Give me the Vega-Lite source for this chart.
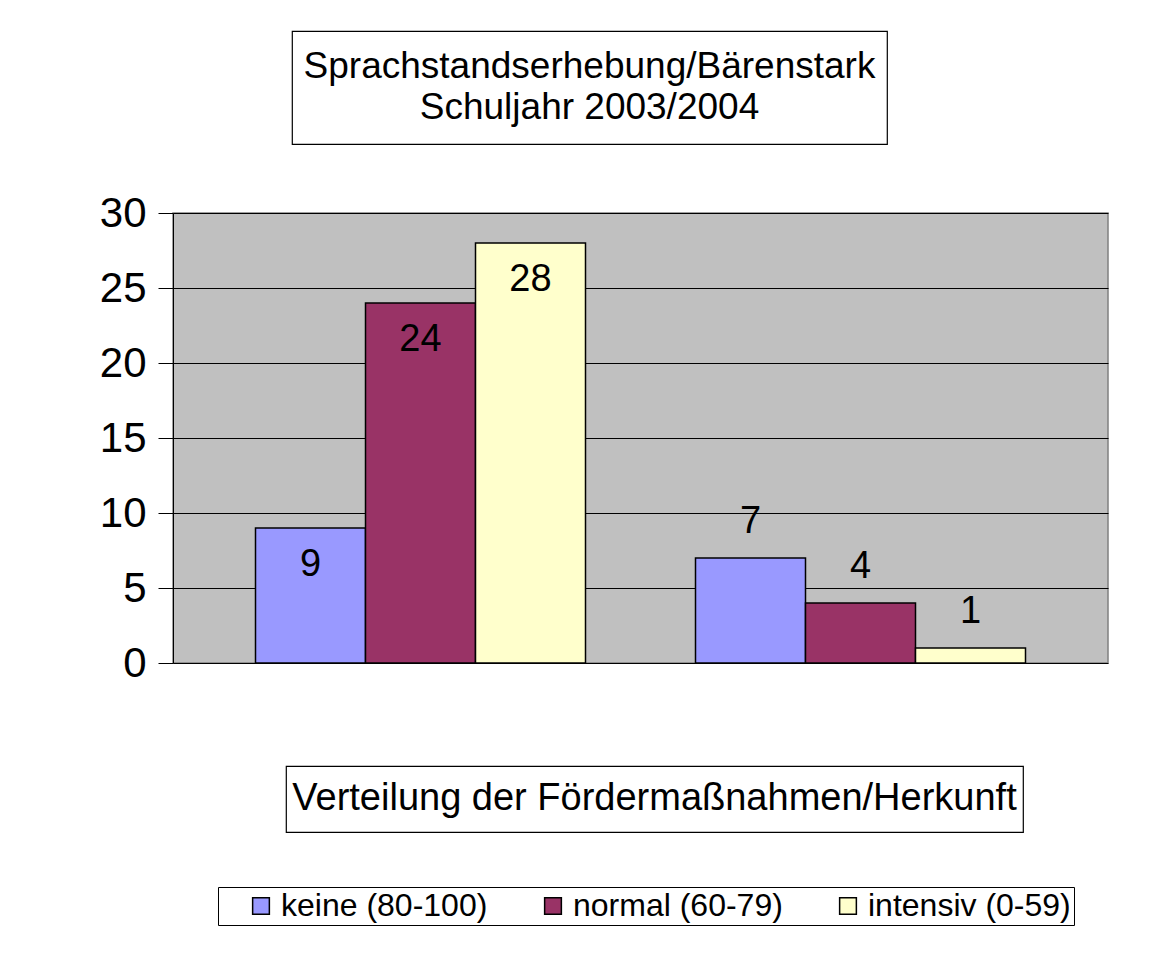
{
  "$schema": "https://vega.github.io/schema/vega-lite/v6.json",
  "background": "white",
  "padding": {"left": 98, "top": 30, "right": 20, "bottom": 10},
  "config": {
    "font": "Liberation Sans",
    "view": {"stroke": null},
    "text": {"color": "black"}
  },
  "datasets": {
    "bars": [
      {"gruppe": "1", "stufe": "keine (80-100)", "anzahl": 9},
      {"gruppe": "1", "stufe": "normal (60-79)", "anzahl": 24},
      {"gruppe": "1", "stufe": "intensiv (0-59)", "anzahl": 28},
      {"gruppe": "2", "stufe": "keine (80-100)", "anzahl": 7},
      {"gruppe": "2", "stufe": "normal (60-79)", "anzahl": 4},
      {"gruppe": "2", "stufe": "intensiv (0-59)", "anzahl": 1}
    ],
    "titel": [
      {"zeile": 1, "text": "Sprachstandserhebung/Bärenstark"},
      {"zeile": 2, "text": "Schuljahr 2003/2004"}
    ],
    "xtitel": [{"text": "Verteilung der Fördermaßnahmen/Herkunft"}],
    "leer": []
  },
  "spacing": 46,
  "vconcat": [
    {
      "spacing": 0,
      "hconcat": [
        {"width": 118, "height": 113, "data": {"name": "leer"}, "mark": "point"},
        {
          "width": 595,
          "height": 113,
          "view": {"stroke": "black", "strokeWidth": 1.2, "fill": "white"},
          "data": {"name": "titel"},
          "mark": {"type": "text", "fontSize": 37, "baseline": "middle"},
          "encoding": {
            "y": {"field": "zeile", "type": "ordinal", "axis": null, "scale": {"type": "point", "padding": 0.9}},
            "text": {"field": "text"}
          }
        }
      ]
    },
    {
      "width": 935,
      "height": 450,
      "view": {"fill": "#C0C0C0", "stroke": "#808080", "strokeWidth": 1.5},
      "data": {"name": "bars"},
      "encoding": {
        "x": {
          "field": "gruppe",
          "type": "nominal",
          "scale": {"paddingInner": 0.25, "paddingOuter": 0.1875},
          "axis": {"labels": false, "domain": false, "ticks": true, "tickSize": 54, "tickColor": "transparent", "title": null, "grid": false}
        },
        "xOffset": {
          "field": "stufe",
          "type": "nominal",
          "sort": ["keine (80-100)", "normal (60-79)", "intensiv (0-59)"],
          "scale": {"paddingInner": 0, "paddingOuter": 0}
        },
        "y": {
          "field": "anzahl",
          "type": "quantitative",
          "scale": {"domain": [0, 30], "nice": false},
          "axis": {
            "values": [0, 5, 10, 15, 20, 25, 30],
            "title": null,
            "grid": true,
            "gridColor": "black",
            "gridWidth": 1,
            "tickSize": 15,
            "tickColor": "black",
            "tickWidth": 1,
            "domainColor": "black",
            "domainWidth": 1,
            "labelFontSize": 42,
            "labelPadding": 12,
            "labelColor": "black"
          }
        }
      },
      "layer": [
        {
          "mark": {"type": "bar", "stroke": "black", "strokeWidth": 1.5},
          "encoding": {
            "color": {
              "field": "stufe",
              "type": "nominal",
              "sort": ["keine (80-100)", "normal (60-79)", "intensiv (0-59)"],
              "scale": {"domain": ["keine (80-100)", "normal (60-79)", "intensiv (0-59)"], "range": ["#9999FF", "#993366", "#FFFFCC"]},
              "legend": {
                "orient": "none",
                "legendX": 45,
                "legendY": 856,
                "direction": "horizontal",
                "title": null,
                "fillColor": "white",
                "strokeColor": "black",
                "padding": 3,
                "symbolType": "square",
                "symbolSize": 280,
                "symbolOffset": 24,
                "symbolStrokeColor": "black",
                "symbolStrokeWidth": 1.5,
                "symbolOpacity": 1,
                "labelFontSize": 32,
                "labelColor": "black",
                "labelOffset": 4,
                "columnPadding": 25,
                "labelLimit": 400
              }
            }
          }
        },
        {
          "transform": [{"filter": "datum.gruppe == '1'"}],
          "mark": {"type": "text", "baseline": "middle", "dy": 37, "fontSize": 38},
          "encoding": {"text": {"field": "anzahl"}}
        },
        {
          "transform": [{"filter": "datum.gruppe == '2'"}],
          "mark": {"type": "text", "baseline": "middle", "dy": -36, "fontSize": 38},
          "encoding": {"text": {"field": "anzahl"}}
        }
      ]
    },
    {
      "spacing": 0,
      "hconcat": [
        {"width": 112, "height": 66, "data": {"name": "leer"}, "mark": "point"},
        {
          "width": 737,
          "height": 66,
          "view": {"stroke": "black", "strokeWidth": 1.2, "fill": "white"},
          "data": {"name": "xtitel"},
          "mark": {"type": "text", "fontSize": 38, "baseline": "middle"},
          "encoding": {"text": {"field": "text"}}
        }
      ]
    }
  ]
}
